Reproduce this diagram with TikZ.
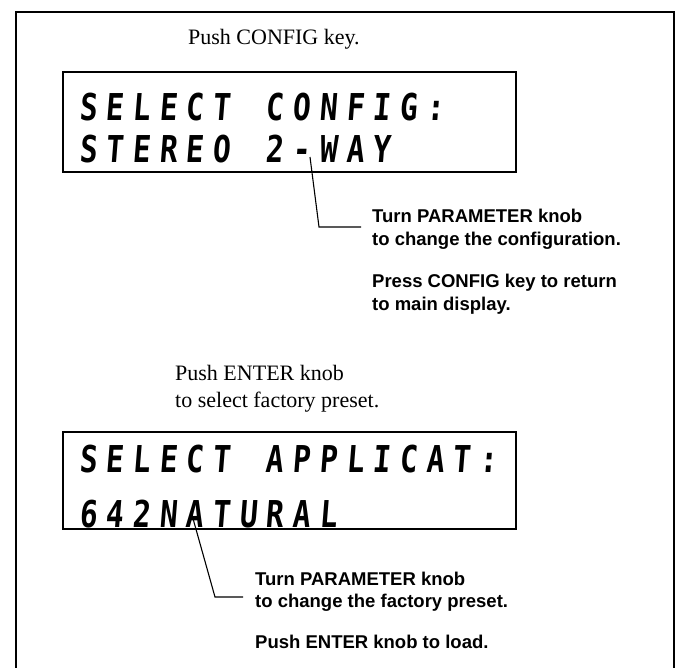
\documentclass[tikz,border=0pt]{standalone}
\usepackage{fontspec}
\setmainfont{Liberation Serif}
\newfontfamily\helv{Liberation Sans}
\newfontfamily\lcdfont{DejaVu Sans Mono}[FakeStretch=0.8,FakeSlant=0.08]
\newcommand\lcdrow[4]{%
  \foreach \lch [count=\ci from 0] in {#4} {%
    \node[lcd] (#1-\ci) at ({#2+8+\ci*26.7},#3) {\lch};%
  }}
\tikzset{
  frame/.style={line width=2.8pt},
  lcdbox/.style={line width=1.6pt},
  leader/.style={line width=1.1pt},
  lcd/.style={font=\lcdfont\bfseries\fontsize{37}{37}\selectfont, inner sep=0pt, anchor=base},
  serif/.style={font=\fontsize{22}{25}\selectfont, inner sep=0pt, anchor=base west},
  note/.style={font=\helv\bfseries\fontsize{18.5}{22}\selectfont, inner sep=0pt, anchor=base west},
}
\begin{document}
\begin{tikzpicture}[x=1pt,y=-1pt]
\useasboundingbox (0,0) rectangle (676,667);
% outer frame (open at bottom)
\draw[frame] (16,672) -- (16,12) -- (674,12) -- (674,672);

% ---- top part ----
\node[serif] (push1) at (188,44) {Push CONFIG key.};
\draw[lcdbox] (63,72) rectangle (516,172);
\lcdrow{ra}{80}{120}{S,E,L,E,C,T,{},C,O,N,F,I,G,:}
\lcdrow{rb}{80}{162}{S,T,E,R,E,O,{},2,-,W,A,Y}

\coordinate (la1) at (310,157);
\coordinate (la2) at (319,227);
\coordinate (la3) at (361,227);
\draw[leader] (la1) -- (la2) -- (la3);
\node[note] (ta1) at (372,222) {Turn PARAMETER knob};
\node[note] (ta2) at (372,245) {to change the configuration.};
\node[note] (ta3) at (372,287) {Press CONFIG key to return};
\node[note] (ta4) at (372,310) {to main display.};

% ---- bottom part ----
\node[serif] (push2) at (175,380) {Push ENTER knob};
\node[serif] (push3) at (175,407) {to select factory preset.};
\draw[lcdbox] (63,432) rectangle (516,529);
\lcdrow{rc}{80}{472}{S,E,L,E,C,T,{},A,P,P,L,I,C,A,T,:}
\lcdrow{rd}{80}{527}{6,4,2,N,A,T,U,R,A,L}

\coordinate (lb1) at (192,515);
\coordinate (lb2) at (215,597);
\coordinate (lb3) at (243,597);
\draw[leader] (lb1) -- (lb2) -- (lb3);
\node[note] (tb1) at (255,585) {Turn PARAMETER knob};
\node[note] (tb2) at (255,607) {to change the factory preset.};
\node[note] (tb3) at (255,648) {Push ENTER knob to load.};
\end{tikzpicture}
\end{document}
